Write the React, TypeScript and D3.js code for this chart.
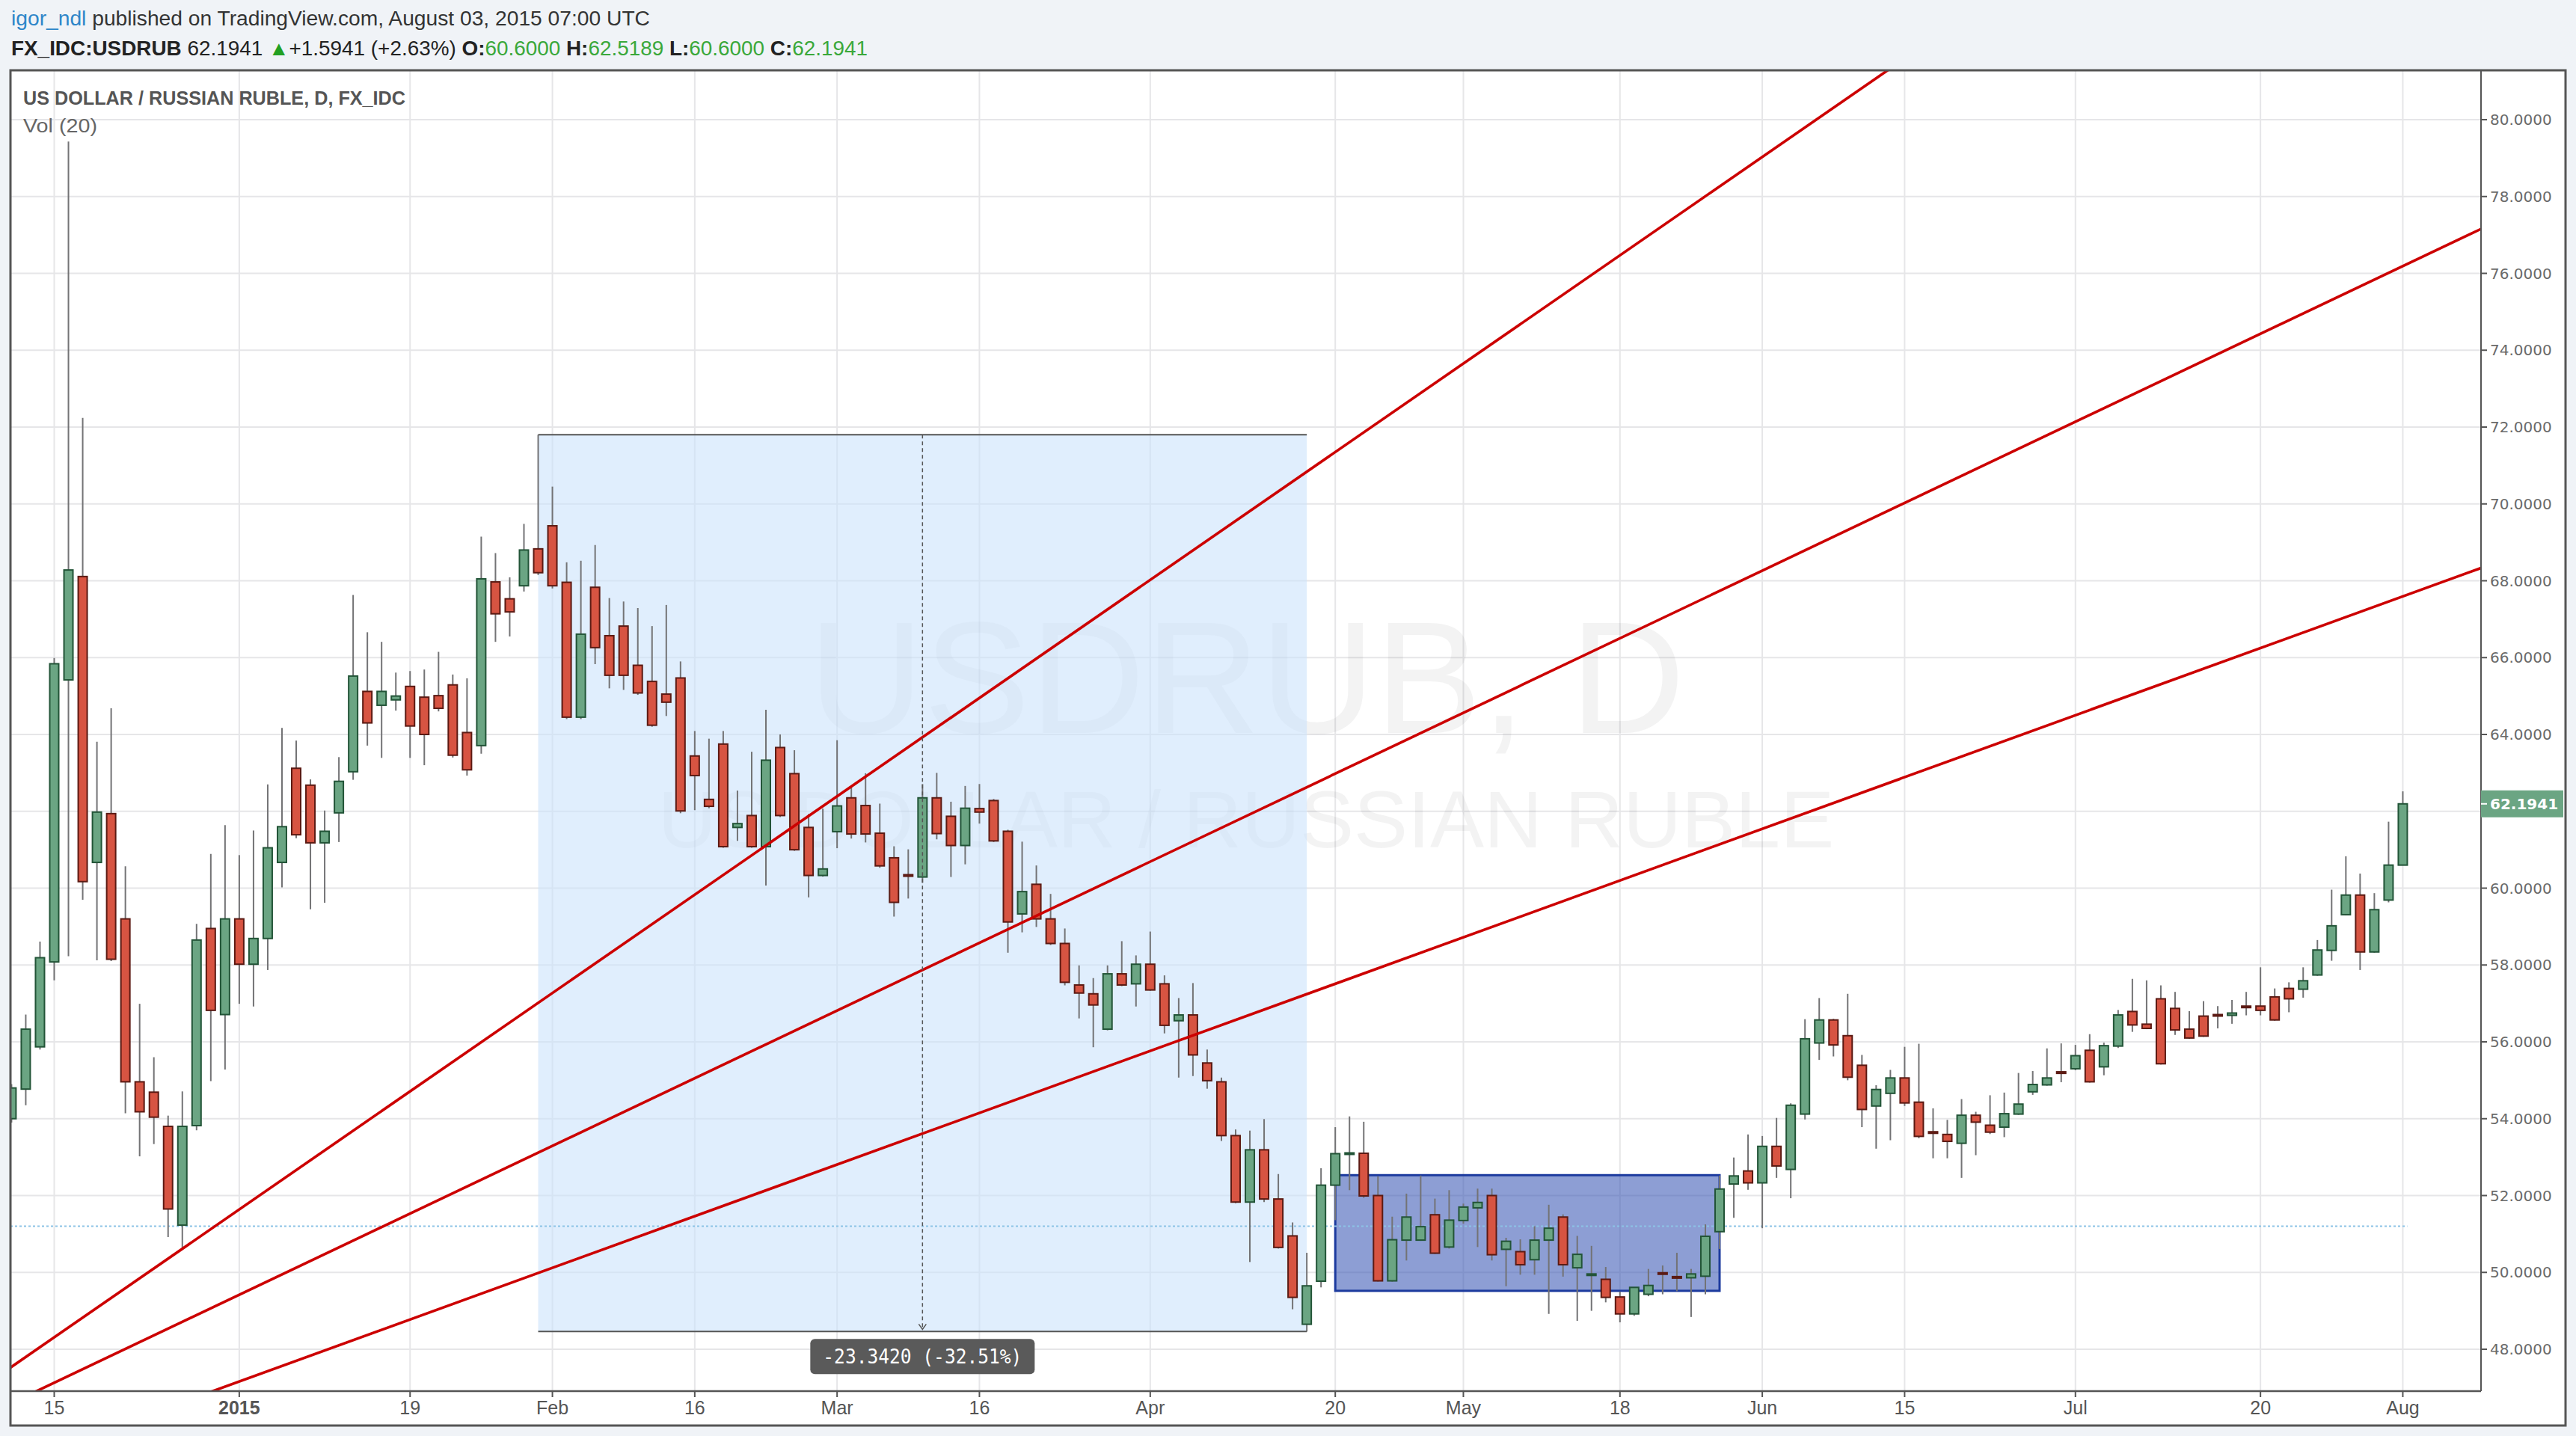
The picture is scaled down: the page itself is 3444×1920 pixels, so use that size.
import React from "react";
import * as d3 from "d3";

// ---------- DATA ----------
function tradingDays(start: string, end: string): string[] {
  const out: string[] = [];
  const d = new Date(start + "T00:00:00Z");
  const e = new Date(end + "T00:00:00Z");
  while (d <= e) {
    const wd = d.getUTCDay();
    if (wd !== 0 && wd !== 6) out.push(d.toISOString().slice(0, 10));
    d.setUTCDate(d.getUTCDate() + 1);
  }
  return out;
}
const dates = tradingDays("2014-12-10", "2015-08-03");

const opens = [
  54.0, 54.77, 55.87,
  58.08, 65.42, 68.11, 60.67, 61.94,
  59.2, 54.96, 54.69, 53.8, 51.23,
  53.82, 58.95, 56.71, 59.2, 58.02,
  58.69, 60.67, 63.12, 62.68, 61.18,
  61.96, 63.03, 65.12, 64.76, 64.9,
  65.25, 64.97, 65.01, 65.29, 64.05,
  63.71, 67.97, 67.53, 67.87, 68.83,
  69.43, 67.96, 64.45, 67.83, 66.57,
  66.82, 65.8, 65.38, 65.05, 65.47,
  63.44, 62.31, 63.75, 61.58, 61.89,
  61.08, 63.66, 62.98, 61.58, 60.33,
  61.47, 62.35, 62.15, 61.43, 60.79,
  60.35, 60.29, 62.35, 61.87, 61.11,
  62.07, 62.28, 61.48, 59.33, 60.1,
  59.2, 58.56, 57.48, 57.25, 56.33,
  57.77, 57.51, 58.02, 57.51, 56.55,
  56.7, 55.45, 54.96, 53.56, 51.83,
  53.19, 51.91, 50.95, 48.65, 49.77,
  52.27, 53.08, 53.1, 52.0, 49.78,
  50.84, 50.84, 51.5, 50.66, 51.35,
  51.68, 52.0, 50.6, 50.54, 50.33,
  50.84, 51.44, 50.12, 49.93, 49.82,
  49.36, 48.92, 49.43, 49.99, 49.89,
  49.86, 49.9, 51.06, 52.3, 52.64,
  52.33, 53.28, 52.68, 54.12, 55.97,
  56.57, 56.16, 55.39, 54.33, 54.66,
  55.06, 54.43, 53.66, 53.59, 53.36,
  54.09, 53.83, 53.78, 54.12, 54.7,
  54.88, 55.22, 55.3, 55.78, 55.35,
  55.89, 56.79, 56.46, 57.12, 56.87,
  56.33, 56.67, 56.71, 56.69, 56.93,
  56.93, 57.17, 57.39, 57.37, 57.74,
  58.38, 59.31, 59.82, 58.34, 59.69,
  60.6,
];
const highs = [
  54.9, 56.71, 58.61,
  65.99, 79.43, 72.24, 63.81, 64.68,
  60.57, 56.99, 55.6, 54.08, 54.71,
  59.07, 60.89, 61.64, 60.86, 61.5,
  62.7, 64.17, 63.84, 62.83, 62.02,
  63.41, 67.63, 66.66, 66.41, 65.61,
  65.65, 65.69, 66.15, 65.56, 65.46,
  69.15, 68.72, 68.09, 69.48, 71.8,
  70.45, 68.48, 68.52, 68.93, 67.55,
  67.46, 67.29, 66.82, 67.37, 65.9,
  64.09, 63.89, 64.09, 62.54, 63.55,
  64.64, 64.0, 63.59, 61.93, 62.07,
  63.85, 62.62, 62.99, 62.2, 61.09,
  61.01, 62.71, 63.0, 62.25, 62.66,
  62.71, 62.32, 61.52, 61.21, 60.59,
  59.85, 58.95, 57.99, 57.66, 57.99,
  58.62, 58.25, 58.87, 57.73, 57.14,
  57.53, 55.8, 55.07, 53.72, 53.69,
  53.99, 52.56, 51.3, 50.51, 52.71,
  53.78, 54.06, 53.92, 52.5, 51.45,
  52.05, 52.52, 51.92, 52.14, 51.79,
  52.18, 52.18, 50.9, 50.86, 51.2,
  51.76, 51.51, 50.95, 50.69, 50.14,
  49.5, 49.61, 50.09, 50.18, 50.51,
  50.09, 51.25, 52.52, 52.99, 53.59,
  53.55, 54.02, 54.4, 56.59, 57.14,
  56.6, 57.25, 55.66, 54.87, 55.27,
  55.87, 55.95, 54.27, 53.97, 54.51,
  54.18, 54.61, 54.68, 55.19, 55.24,
  55.83, 55.96, 55.92, 56.2, 55.98,
  56.83, 57.64, 57.6, 57.47, 57.3,
  56.8, 57.06, 56.93, 57.09, 57.3,
  57.94, 57.39, 57.55, 57.94, 58.65,
  59.96, 60.83, 60.38, 59.87, 61.73,
  62.5189,
];
const lows = [
  53.9, 54.35, 55.8,
  57.6, 58.23, 59.7, 58.12, 58.1,
  54.14, 53.02, 53.34, 50.92, 50.64,
  53.7, 54.98, 55.28, 56.99, 56.92,
  57.87, 60.02, 61.3, 59.45, 59.62,
  61.2, 62.82, 63.71, 63.39, 64.62,
  63.39, 63.2, 64.6, 63.4, 62.93,
  63.5, 66.41, 66.55, 67.72, 68.15,
  67.8, 64.4, 64.4, 65.83, 65.2,
  65.16, 65.03, 64.2, 64.48, 61.95,
  62.03, 62.08, 61.05, 61.23, 61.05,
  60.07, 61.85, 60.97, 59.76, 60.3,
  61.04, 61.29, 61.19, 60.53, 59.26,
  59.73, 60.14, 61.27, 60.29, 60.62,
  61.68, 61.2, 58.32, 58.85, 58.99,
  58.52, 57.47, 56.61, 55.86, 56.3,
  57.45, 56.92, 57.33, 56.22, 55.07,
  55.11, 54.78, 53.42, 51.8, 50.27,
  51.83, 50.62, 49.04, 48.46, 49.61,
  51.36, 52.14, 51.94, 49.76, 49.76,
  50.31, 50.82, 50.48, 50.62, 51.27,
  50.66, 50.31, 49.64, 49.94, 49.94,
  48.92, 49.89, 48.74, 49.0, 49.22,
  48.7, 48.87, 49.38, 49.43, 49.51,
  48.84, 49.43, 50.61, 51.42, 52.15,
  51.15, 52.46, 51.93, 53.98, 55.53,
  55.62, 55.0, 53.78, 53.22, 53.44,
  54.33, 53.49, 52.97, 52.97, 52.46,
  53.05, 53.6, 53.52, 54.1, 54.62,
  54.86, 54.95, 55.26, 54.94, 55.13,
  55.84, 56.26, 56.33, 55.41, 56.18,
  56.08, 56.13, 56.35, 56.47, 56.69,
  56.69, 56.55, 56.77, 57.15, 57.72,
  58.11, 59.29, 57.87, 58.32, 59.63,
  60.6,
];
const closes = [
  54.8, 56.33, 58.19,
  65.84, 68.28, 60.17, 61.98, 58.15,
  54.96, 54.18, 54.04, 51.65, 53.8,
  58.65, 56.82, 59.2, 58.02, 58.69,
  61.05, 61.6, 61.39, 61.18, 61.48,
  62.78, 65.52, 64.3, 65.12, 65.0,
  64.22, 64.0, 64.68, 63.46, 63.08,
  68.05, 67.14, 67.19, 68.8, 68.21,
  67.87, 64.45, 66.61, 66.26, 65.54,
  65.54, 65.08, 64.24, 64.84, 62.01,
  62.93, 62.13, 61.08, 61.68, 61.08,
  63.33, 61.89, 61.0, 60.33, 60.5,
  62.14, 61.41, 61.41, 60.58, 59.63,
  60.31, 62.35, 61.42, 61.11, 62.08,
  61.98, 61.23, 59.12, 59.91, 59.2,
  58.56, 57.55, 57.27, 56.96, 57.77,
  57.48, 58.02, 57.35, 56.43, 56.7,
  55.66, 54.99, 53.56, 51.83, 53.19,
  51.91, 50.65, 49.35, 49.65, 52.27,
  53.09, 53.11, 51.99, 49.78, 50.85,
  51.44, 51.19, 50.5, 51.36, 51.7,
  51.82, 50.46, 50.81, 50.2, 50.84,
  51.15, 50.2, 50.47, 49.96, 49.35,
  48.92, 49.61, 49.66, 49.96, 49.87,
  49.96, 50.94, 52.17, 52.51, 52.33,
  53.28, 52.77, 54.35, 56.08, 56.57,
  55.92, 55.08, 54.24, 54.76, 55.06,
  54.41, 53.54, 53.62, 53.41, 54.09,
  53.91, 53.65, 54.13, 54.38, 54.89,
  55.06, 55.18, 55.64, 54.96, 55.9,
  56.7, 56.44, 56.35, 55.43, 56.31,
  56.1, 56.15, 56.69, 56.75, 56.9,
  56.82, 56.57, 57.12, 57.59, 58.39,
  59.02, 59.82, 58.34, 59.44, 60.6,
  62.1941,
];

const xTickDates = [
  "2014-12-15", "2015-01-01", "2015-01-19", "2015-02-02", "2015-02-16", "2015-03-02",
  "2015-03-16", "2015-04-01", "2015-04-20", "2015-05-01", "2015-05-18", "2015-06-01",
  "2015-06-15", "2015-07-01", "2015-07-20", "2015-08-03",
];
const xTickLabels = ["15", "2015", "19", "Feb", "16", "Mar", "16", "Apr", "20", "May", "18", "Jun", "15", "Jul", "20", "Aug"];
const yTicks = [48, 50, 52, 54, 56, 58, 60, 62, 64, 66, 68, 70, 72, 74, 76, 78, 80];

const lastPrice = 62.1941;
const measureStart = "2015-01-30";
const measureEnd = "2015-04-16";
const measureHigh = 71.8;
const measureLow = 48.46;
const measureLabel = "-23.3420 (-32.51%)";
const boxStart = "2015-04-20";
const boxEnd = "2015-05-27";
const boxLow = 49.52;
const boxHigh = 52.53;
const hLinePrice = 51.2;
// trend lines: anchor (bar index, price) pairs
const trendA = [37.06, 57.03, 79.64, 67.93];
const trendB = [59.22, 57.03, 121.11, 67.93];
const trendC = [64.35, 53.66, 130.56, 62.56];

// ---------- LAYOUT ----------
const PLOT = { left: 14, top: 94, right: 3317, bottom: 1860 };
const FRAME = { left: 14, top: 94, right: 3430, bottom: 1906 };
const SANS = "'Liberation Sans', Arial, sans-serif";
const GREEN = "#6ba583", GREEN_B = "#225437", RED = "#d75442", RED_B = "#5b1a13";

export default function App() {
  const x = d3.scaleLinear().domain([0, dates.length - 1]).range([15.41, 3212.45]);
  const y = d3.scaleLinear().domain([48, 80]).range([1804, 160]);
  const idx = (d: string) => dates.indexOf(d);
  const bodyW = 12;

  const trendPath = (t: number[]) => {
    const x1 = x(t[0]), y1 = y(t[1]), x2 = x(t[2]), y2 = y(t[3]);
    const m = (y2 - y1) / (x2 - x1);
    const L = PLOT.left - 5, R = PLOT.right + 5;
    return `M${L},${y1 + m * (L - x1)}L${R},${y1 + m * (R - x1)}`;
  };

  const mS = x(idx(measureStart)), mE = x(idx(measureEnd));
  const mMid = (mS + mE) / 2;
  const mTop = y(measureHigh), mBot = y(measureLow);
  const lastY = y(lastPrice);

  return (
    <svg width={3444} height={1920} style={{ position: "fixed", left: 0, top: 0, display: "block" }} fontFamily={SANS}>
      <defs>
        <clipPath id="plotClip">
          <rect x={PLOT.left} y={PLOT.top} width={PLOT.right - PLOT.left} height={PLOT.bottom - PLOT.top} />
        </clipPath>
      </defs>
      <rect x={0} y={0} width={3444} height={1920} fill="#f0f3f7" />
      <rect x={FRAME.left} y={FRAME.top} width={FRAME.right - FRAME.left} height={FRAME.bottom - FRAME.top} fill="#ffffff" />

      {/* header */}
      <text x={15} y={34} fontSize={27} textLength={854} lengthAdjust="spacingAndGlyphs">
        <tspan fill="#2e86c9">igor_ndl</tspan>
        <tspan fill="#333333">{" published on TradingView.com, August 03, 2015 07:00 UTC"}</tspan>
      </text>
      <text x={15} y={74} fontSize={27} textLength={1145} lengthAdjust="spacingAndGlyphs" fill="#222222">
        <tspan fontWeight="bold">FX_IDC:USDRUB</tspan>
        <tspan>{" 62.1941 "}</tspan>
        <tspan fill="#22a022">▲</tspan>
        <tspan>{"+1.5941 (+2.63%) "}</tspan>
        <tspan fontWeight="bold">O:</tspan>
        <tspan fill="#3aa83a">60.6000</tspan>
        <tspan fontWeight="bold">{" H:"}</tspan>
        <tspan fill="#3aa83a">62.5189</tspan>
        <tspan fontWeight="bold">{" L:"}</tspan>
        <tspan fill="#3aa83a">60.6000</tspan>
        <tspan fontWeight="bold">{" C:"}</tspan>
        <tspan fill="#3aa83a">62.1941</tspan>
      </text>

      <g clipPath="url(#plotClip)">
        {/* grid */}
        {yTicks.map((v) => (
          <line key={"gy" + v} x1={PLOT.left} x2={PLOT.right} y1={y(v)} y2={y(v)} stroke="#e6e6e8" strokeWidth={2} />
        ))}
        {xTickDates.map((d) => (
          <line key={"gx" + d} x1={x(idx(d))} x2={x(idx(d))} y1={PLOT.top} y2={PLOT.bottom} stroke="#e6e6e8" strokeWidth={2} />
        ))}

        {/* watermark */}
        <text x={1667} y={980} fontSize={213} textAnchor="middle" fill="#000" opacity={0.045}>USDRUB, D</text>
        <text x={1666} y={1133} fontSize={108} textAnchor="middle" fill="#000" opacity={0.045}>US DOLLAR / RUSSIAN RUBLE</text>

        {/* measurement range */}
        <rect x={mS} y={mTop} width={mE - mS} height={mBot - mTop} fill="#c9e1fb" opacity={0.58} />
        {/* consolidation box */}
        <rect x={x(idx(boxStart))} y={y(boxHigh)} width={x(idx(boxEnd)) - x(idx(boxStart))} height={y(boxLow) - y(boxHigh)}
          fill="#2f4fb0" fillOpacity={0.55} stroke="#1c3a9e" strokeWidth={3} />

        {/* horizontal dotted line */}
        <line x1={PLOT.left} x2={x(dates.length - 1) + 6} y1={y(hLinePrice)} y2={y(hLinePrice)} stroke="#8cc3e6" strokeWidth={2} strokeDasharray="3 3" />

        {/* candles */}
        {dates.map((d, i) => {
          const up = closes[i] >= opens[i];
          const cx = x(i);
          const top = y(Math.max(opens[i], closes[i]));
          const bot = y(Math.min(opens[i], closes[i]));
          const h = Math.max(bot - top, 2);
          return (
            <g key={d}>
              <line x1={cx} x2={cx} y1={y(highs[i])} y2={y(lows[i])} stroke="#737375" strokeWidth={2} />
              <rect x={cx - bodyW / 2} y={top} width={bodyW} height={h}
                fill={up ? GREEN : RED} stroke={up ? GREEN_B : RED_B} strokeWidth={2} />
            </g>
          );
        })}

        {/* trend lines */}
        {[trendA, trendB, trendC].map((t, k) => (
          <path key={"t" + k} d={trendPath(t)} stroke="#cc0000" strokeWidth={3.6} fill="none" />
        ))}

        {/* measurement borders */}
        <line x1={mS} x2={mE} y1={mTop} y2={mTop} stroke="#555" strokeWidth={2} />
        <line x1={mS} x2={mE} y1={mBot} y2={mBot} stroke="#555" strokeWidth={2} />
        <line x1={mMid} x2={mMid} y1={mTop} y2={mBot - 2} stroke="#555" strokeWidth={1.5} strokeDasharray="5 4" />
        <path d={`M${mMid - 5},${mBot - 10}L${mMid},${mBot - 3}L${mMid + 5},${mBot - 10}`} stroke="#555" strokeWidth={1.5} fill="none" />
        <rect x={mMid - 150} y={mBot + 10} width={300} height={47} rx={6} fill="#5a5a5a" />
        <text x={mMid} y={mBot + 43} fontSize={26} fill="#ffffff" textAnchor="middle" fontFamily="'DejaVu Sans Mono', monospace"
          textLength={266} lengthAdjust="spacingAndGlyphs">{measureLabel}</text>

        {/* title */}
        <text x={31} y={140} fontSize={25} fontWeight="bold" fill="#555555" textLength={511} lengthAdjust="spacingAndGlyphs">
          US DOLLAR / RUSSIAN RUBLE, D, FX_IDC
        </text>
        <text x={31} y={177} fontSize={25} fill="#666666" textLength={99} lengthAdjust="spacingAndGlyphs">Vol (20)</text>
      </g>

      {/* axes */}
      <line x1={PLOT.right} x2={PLOT.right} y1={PLOT.top} y2={PLOT.bottom} stroke="#555" strokeWidth={2} />
      <line x1={PLOT.left} x2={PLOT.right} y1={PLOT.bottom} y2={PLOT.bottom} stroke="#555" strokeWidth={2.5} />
      {yTicks.filter((v) => Math.abs(y(v) - lastY) > 22).map((v) => (
        <g key={"yt" + v}>
          <line x1={PLOT.right} x2={PLOT.right + 8} y1={y(v)} y2={y(v)} stroke="#555" strokeWidth={2} />
          <text x={PLOT.right + 12} y={y(v)} dy="0.36em" fontSize={20} fill="#6a6a6a" fontFamily="'DejaVu Sans', Verdana, sans-serif">
            {v.toFixed(4)}
          </text>
        </g>
      ))}
      <rect x={PLOT.right} y={lastY - 18} width={110} height={36} fill={GREEN} />
      <line x1={PLOT.right} x2={PLOT.right + 8} y1={lastY} y2={lastY} stroke="#ffffff" strokeWidth={2} />
      <text x={PLOT.right + 12} y={lastY} dy="0.36em" fontSize={20} fill="#ffffff" fontWeight="bold" fontFamily="'DejaVu Sans', Verdana, sans-serif">
        {lastPrice.toFixed(4)}
      </text>

      {xTickDates.map((d, k) => (
        <g key={"xt" + d}>
          <line x1={x(idx(d))} x2={x(idx(d))} y1={PLOT.bottom} y2={PLOT.bottom + 8} stroke="#555" strokeWidth={2} />
          <text x={x(idx(d))} y={1891} fontSize={25} textAnchor="middle" fill="#555555" fontWeight={xTickLabels[k] === "2015" ? "bold" : "normal"}>
            {xTickLabels[k]}
          </text>
        </g>
      ))}

      {/* frame */}
      <rect x={FRAME.left} y={FRAME.top} width={FRAME.right - FRAME.left} height={FRAME.bottom - FRAME.top} fill="none" stroke="#555" strokeWidth={3} />
    </svg>
  );
}
